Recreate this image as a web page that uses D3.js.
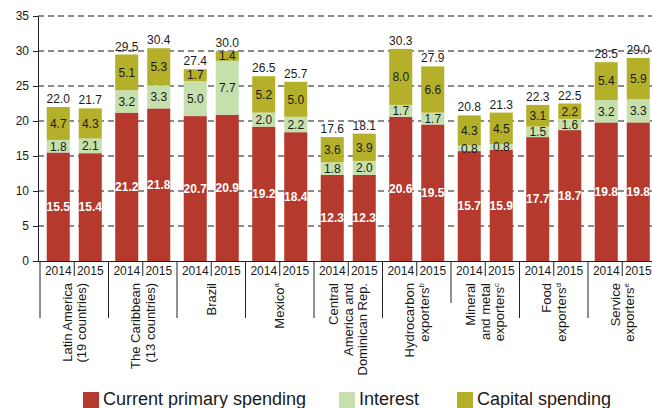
<!DOCTYPE html>
<html>
<head>
<meta charset="utf-8">
<script src="https://cdn.jsdelivr.net/npm/d3@7"></script>
<style>
  body { margin: 0; background: #fff; }
  svg { display: block; font-family: Arial, "Liberation Sans", sans-serif; }
</style>
</head>
<body>
<svg id="chart" width="652" height="408"></svg>
<script>
(function () {
    var width = 652, height = 408;

    // groups, two years each
    var groups = ["Latin America", "The Caribbean", "Brazil", "Mexico", "Central America",
        "Hydrocarbon", "Mineral", "Food", "Service"];
    var groupLines = [
        ["Latin America", "(19 countries)"],
        ["The Caribbean", "(13 countries)"],
        ["Brazil"],
        ["Mexico"],
        ["Central", "America and", "Dominican Rep."],
        ["Hydrocarbon", "exporters"],
        ["Mineral", "and metal", "exporters"],
        ["Food", "exporters"],
        ["Service", "exporters"]
    ];
    var groupNotes = ["", "", "", "a", "", "b", "c", "d", "e"];
    var years = ["2014", "2015"];

    // values per group, [2014, 2015]
    var currentPrimary = [[15.5, 15.4], [21.2, 21.8], [20.7, 20.9], [19.2, 18.4], [12.3, 12.3],
        [20.6, 19.5], [15.7, 15.9], [17.7, 18.7], [19.8, 19.8]];
    var interest = [[1.8, 2.1], [3.2, 3.3], [5.0, 7.7], [2.0, 2.2], [1.8, 2.0],
        [1.7, 1.7], [0.8, 0.8], [1.5, 1.6], [3.2, 3.3]];
    var capital = [[4.7, 4.3], [5.1, 5.3], [1.7, 1.4], [5.2, 5.0], [3.6, 3.9],
        [8.0, 6.6], [4.3, 4.5], [3.1, 2.2], [5.4, 5.9]];
    var totals = [[22.0, 21.7], [29.5, 30.4], [27.4, 30.0], [26.5, 25.7], [17.6, 18.1],
        [30.3, 27.9], [20.8, 21.3], [22.3, 22.5], [28.5, 29.0]];

    var seriesNames = ["Current primary spending", "Interest", "Capital spending"];
    var yTicks = [0, 5, 10, 15, 20, 25, 30, 35];

    var colors = d3.scaleOrdinal()
        .domain(seriesNames)
        .range(["#b5392c", "#c6e0ad", "#b4b02a"]);

    // flatten into one row per bar
    var rows = [];
    groups.forEach(function (g, i) {
        years.forEach(function (yr, j) {
            rows.push({
                group: g, year: yr,
                "Current primary spending": currentPrimary[i][j],
                "Interest": interest[i][j],
                "Capital spending": capital[i][j],
                total: totals[i][j]
            });
        });
    });

    var stacked = d3.stack().keys(seriesNames)(rows);

    var y = d3.scaleLinear().domain([0, 35]).range([261, 16]);

    var x0 = d3.scaleBand().domain(groups).range([40, 40 + 9 * 68.5]).padding(0);
    var x1 = d3.scaleBand().domain(years).range([0, x0.bandwidth()])
        .paddingInner(0.28).paddingOuter(0.21);

    function barX(d) { return x0(d.group) + x1(d.year); }

    var svg = d3.select("#chart");

    // dashed gridlines behind the bars
    svg.append("g")
        .selectAll("line")
        .data(yTicks.filter(function (t) { return t > 0; }))
        .join("line")
        .attr("x1", 38).attr("x2", width)
        .attr("y1", function (d) { return y(d); })
        .attr("y2", function (d) { return y(d); })
        .attr("stroke", "#666")
        .attr("stroke-width", 1.4)
        .attr("stroke-dasharray", "6,4");

    // bars
    var layer = svg.append("g")
        .selectAll("g")
        .data(stacked)
        .join("g")
        .attr("fill", function (d) { return colors(d.key); });

    layer.selectAll("rect")
        .data(function (d) { return d; })
        .join("rect")
        .attr("x", function (d) { return barX(d.data); })
        .attr("width", x1.bandwidth())
        .attr("y", function (d) { return y(d[1]); })
        .attr("height", function (d) { return y(d[0]) - y(d[1]); });

    // segment labels
    stacked.forEach(function (s, k) {
        svg.append("g")
            .selectAll("text")
            .data(s)
            .join("text")
            .attr("x", function (d) { return barX(d.data) + x1.bandwidth() / 2; })
            .attr("y", function (d) { return (y(d[0]) + y(d[1])) / 2; })
            .attr("dy", "0.36em")
            .attr("text-anchor", "middle")
            .attr("font-size", 12)
            .attr("font-weight", k === 0 ? "bold" : "normal")
            .attr("fill", k === 0 ? "#fff" : "#1a1a1a")
            .text(function (d) { return d.data[s.key].toFixed(1); });
    });

    // totals above bars
    var top = stacked[stacked.length - 1];
    svg.append("g")
        .selectAll("text")
        .data(top)
        .join("text")
        .attr("x", function (d) { return barX(d.data) + x1.bandwidth() / 2; })
        .attr("y", function (d) { return y(d[1]) - 4; })
        .attr("text-anchor", "middle")
        .attr("font-size", 12)
        .attr("fill", "#1a1a1a")
        .text(function (d) { return d.data.total.toFixed(1); });

    // y axis
    var yAxis = svg.append("g")
        .attr("transform", "translate(38,0)")
        .call(d3.axisLeft(y).tickValues(yTicks).tickSize(5).tickSizeOuter(0).tickPadding(4));
    yAxis.selectAll("text").attr("font-size", 12).attr("fill", "#1a1a1a")
        .attr("font-family", "Arial, 'Liberation Sans', sans-serif");
    yAxis.selectAll("line, path").attr("stroke", "#222");

    // x axis: baseline, years, separators
    var xa = svg.append("g");
    xa.append("line")
        .attr("x1", 38).attr("x2", width)
        .attr("y1", 261.5).attr("y2", 261.5)
        .attr("stroke", "#222");

    xa.selectAll(".yr")
        .data(rows)
        .join("text")
        .attr("class", "yr")
        .attr("x", function (d) { return barX(d) + x1.bandwidth() / 2; })
        .attr("y", 275)
        .attr("text-anchor", "middle")
        .attr("font-size", 12)
        .attr("fill", "#1a1a1a")
        .text(function (d) { return d.year; });

    xa.selectAll(".mid")
        .data(groups)
        .join("line")
        .attr("class", "mid")
        .attr("x1", function (d) { return x0(d) + x0.bandwidth() / 2; })
        .attr("x2", function (d) { return x0(d) + x0.bandwidth() / 2; })
        .attr("y1", 261).attr("y2", 276)
        .attr("stroke", "#222");

    xa.selectAll(".sep")
        .data(groups)
        .join("line")
        .attr("class", "sep")
        .attr("x1", function (d) { return x0(d); })
        .attr("x2", function (d) { return x0(d); })
        .attr("y1", 261)
        .attr("y2", function (d, i) { return i === 6 ? 303 : 318; })
        .attr("stroke", "#222");

    // rotated group labels
    groups.forEach(function (g, i) {
        var lines = groupLines[i];
        var cx = x0(g) + x0.bandwidth() / 2;
        lines.forEach(function (ln, k) {
            var off = (k - (lines.length - 1) / 2) * 14.5;
            var t = svg.append("text")
                .attr("transform", "translate(" + (cx + off) + ",283) rotate(-90)")
                .attr("text-anchor", "end")
                .attr("dy", "0.35em")
                .attr("font-size", 13)
                .attr("fill", "#1a1a1a");
            t.append("tspan").text(ln);
            if (k === lines.length - 1 && groupNotes[i]) {
                t.append("tspan")
                    .attr("font-size", 8)
                    .attr("dy", -5)
                    .text(groupNotes[i]);
            }
        });
    });

    // legend
    var legendX = [83, 339, 457];
    var legend = svg.append("g")
        .selectAll("g")
        .data(seriesNames)
        .join("g")
        .attr("transform", function (d, i) { return "translate(" + legendX[i] + ",392)"; });
    legend.append("rect")
        .attr("width", 16).attr("height", 16)
        .attr("fill", function (d) { return colors(d); });
    legend.append("text")
        .attr("x", 20).attr("y", 13)
        .attr("font-size", 18)
        .attr("fill", "#1a1a1a")
        .text(function (d) { return d; });
})();
</script>
</body>
</html>
